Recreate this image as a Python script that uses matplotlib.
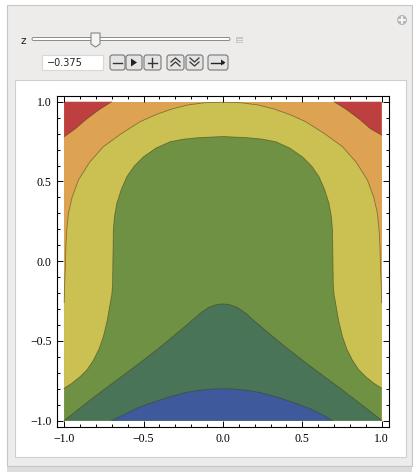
import matplotlib
matplotlib.use("Agg")
import matplotlib.pyplot as plt
from matplotlib.patches import Rectangle, FancyBboxPatch, Circle, Polygon

# Contour boundaries (x values, y values)
red_left_x = [-0.70, -0.78, -0.86, -0.93, -1.0]
red_left_y = [1.0, 0.95, 0.89, 0.83, 0.78]
red_right_x = [0.70, 0.78, 0.86, 0.93, 1.0]
red_right_y = [1.0, 0.95, 0.89, 0.83, 0.79]

orange_x = [-1.0, -0.997, -0.993, -0.989, -0.984, -0.973, -0.95, -0.91, -0.84, -0.753,
            -0.64, -0.521, -0.42, -0.32, -0.22, -0.112, 0.0,
            0.112, 0.22, 0.32, 0.42, 0.521, 0.64, 0.753, 0.84, 0.91,
            0.95, 0.973, 0.984, 0.989, 0.993, 0.997, 1.0]
orange_y = [-0.26, -0.15, -0.05, 0.09, 0.19, 0.30, 0.40, 0.509, 0.62, 0.718,
            0.80, 0.875, 0.92, 0.955, 0.98, 0.994, 0.997,
            0.994, 0.98, 0.955, 0.92, 0.875, 0.80, 0.718, 0.62, 0.509,
            0.40, 0.30, 0.19, 0.09, -0.05, -0.15, -0.26]

yellow_x = [-1.0, -0.95, -0.899, -0.855, -0.815, -0.78, -0.753, -0.728, -0.71, -0.70,
            -0.695, -0.693, -0.69, -0.683, -0.668, -0.64, -0.605, -0.56, -0.50, -0.42,
            -0.333, -0.25, -0.15, -0.038, 0.0,
            0.038, 0.15, 0.25, 0.333, 0.42, 0.50, 0.56, 0.605, 0.64, 0.668,
            0.683, 0.69, 0.693, 0.695, 0.70, 0.71, 0.728, 0.753, 0.78, 0.815,
            0.855, 0.899, 0.95, 1.0]
yellow_y = [-0.797, -0.765, -0.724, -0.68, -0.62, -0.55, -0.473, -0.37, -0.264, -0.21,
            -0.15, 0.0, 0.196, 0.28, 0.363, 0.45, 0.53, 0.595, 0.655, 0.71,
            0.749, 0.765, 0.775, 0.78, 0.782,
            0.78, 0.775, 0.765, 0.749, 0.71, 0.655, 0.595, 0.53, 0.45, 0.363,
            0.28, 0.196, 0.0, -0.15, -0.21, -0.264, -0.37, -0.473, -0.55, -0.62,
            -0.68, -0.724, -0.765, -0.797]

dkgreen_x = [-1.0, -0.88, -0.753, -0.62, -0.50, -0.39, -0.29, -0.21, -0.144, -0.09,
             -0.04, 0.0, 0.04, 0.09, 0.144, 0.21, 0.29, 0.39, 0.50, 0.62,
             0.753, 0.88, 1.0]
dkgreen_y = [-1.0, -0.905, -0.808, -0.71, -0.62, -0.535, -0.452, -0.385, -0.327, -0.29,
             -0.272, -0.268, -0.272, -0.29, -0.327, -0.385, -0.452, -0.535, -0.62, -0.71,
             -0.808, -0.905, -0.998]

blue_x = [-0.70, -0.62, -0.542, -0.44, -0.333, -0.24, -0.15, -0.07, 0.0,
          0.07, 0.15, 0.24, 0.333, 0.44, 0.542, 0.62, 0.69]
blue_y = [-1.0, -0.96, -0.922, -0.885, -0.85, -0.825, -0.81, -0.802, -0.80,
          -0.802, -0.81, -0.825, -0.85, -0.885, -0.922, -0.96, -1.0]

slider_value = "\u22120.375"
ticks = [-1.0, -0.5, 0.0, 0.5, 1.0]
tick_labels = ["\u22121.0", "\u22120.5", "0.0", "0.5", "1.0"]

c_red = "#bd3f40"
c_orange = "#dea352"
c_yellow = "#cbc152"
c_green = "#6f9143"
c_dkgreen = "#4a7458"
c_blue = "#3f5a9c"
c_line = "#3d3d1c"

W, H = 417, 472
fig = plt.figure(figsize=(W / 100, H / 100), dpi=100)
fig.patch.set_facecolor("white")

# pixel-space overlay for the Manipulate panel
ui = fig.add_axes([0, 0, 1, 1])
ui.set_xlim(0, W)
ui.set_ylim(H, 0)
ui.axis("off")
ui.add_patch(Rectangle((7, 466), 405, 6, facecolor="#dcdcdc", edgecolor="none"))
ui.add_patch(Rectangle((7, 5), 405, 461, facecolor="#edecea", edgecolor="#c6c6c6", lw=0.8))
ui.add_patch(Rectangle((15, 80), 391, 377, facecolor="white", edgecolor="#cfcfcf", lw=0.8))

# plus icon top right
ui.add_patch(Circle((402, 20), 5, facecolor="#b8b8b8", edgecolor="none"))
ui.plot([399, 405], [20, 20], color="white", lw=1.2)
ui.plot([402, 402], [17, 23], color="white", lw=1.2)

# slider
ui.text(23, 41, "z", fontsize=7.5, ha="center", va="center", family="DejaVu Sans", color="#222222")
ui.add_patch(FancyBboxPatch((32, 37.5), 198, 3, boxstyle="round,pad=0,rounding_size=1.5",
                            facecolor="white", edgecolor="#8a8a8a", lw=0.7))
ui.add_patch(Polygon([[91, 33], [100, 33], [100, 44], [95.5, 47], [91, 44]],
                     closed=True, facecolor="#f4f4f4", edgecolor="#777777", lw=0.7))
ui.add_patch(Rectangle((236, 37), 7, 6, facecolor="#c8c8c8", edgecolor="none"))
ui.plot([237, 242], [39, 39], color="#f0f0f0", lw=0.6)
ui.plot([237, 242], [41, 41], color="#f0f0f0", lw=0.6)

# value box
ui.add_patch(Rectangle((42, 55), 61, 15, facecolor="white", edgecolor="#d8d8d8", lw=0.8))
ui.text(47, 62.5, slider_value, fontsize=7, ha="left", va="center", family="DejaVu Sans", color="#222222")

# buttons
buttons = [(110, 15), (126, 16), (144, 17), (167, 17), (186, 17), (208, 20)]
for bx, bw in buttons:
    ui.add_patch(FancyBboxPatch((bx, 55), bw, 15, boxstyle="round,pad=0,rounding_size=2.5",
                                facecolor="#e4e4e4", edgecolor="#777777", lw=0.8))
ui.plot([113, 122], [62.5, 62.5], color="#333333", lw=1.0)
ui.add_patch(Polygon([[131, 58.5], [131, 66.5], [137, 62.5]], closed=True, facecolor="#222222"))
ui.plot([148, 157], [62.5, 62.5], color="#333333", lw=1.0)
ui.plot([152.5, 152.5], [58, 67], color="#333333", lw=1.0)
for dy in (0, 4):
    ui.plot([171, 175.5, 180], [62 + dy, 58 + dy, 62 + dy], color="#333333", lw=0.9)
    ui.plot([190, 194.5, 199], [58 + dy, 62 + dy, 58 + dy], color="#333333", lw=0.9)
ui.plot([211, 223], [62.5, 62.5], color="#222222", lw=1.0)
ui.add_patch(Polygon([[221, 59.5], [221, 65.5], [225.5, 62.5]], closed=True, facecolor="#222222"))

# contour plot axes: frame from px 57..389 (x), 96..427 (y)
ax = fig.add_axes([57 / W, 1 - 427 / H, (389 - 57) / W, (427 - 96) / H])
ax.set_xlim(-1.045, 1.046)
ax.set_ylim(-1.04, 1.036)

ax.add_patch(Rectangle((-1, -1), 2, 2, facecolor=c_orange, edgecolor="none"))
ax.fill(red_left_x + [-1.0], red_left_y + [1.0], color=c_red, lw=0)
ax.fill(red_right_x + [1.0], red_right_y + [1.0], color=c_red, lw=0)
ax.fill(orange_x + [1.0, -1.0], orange_y + [-1.0, -1.0], color=c_yellow, lw=0)
ax.fill(yellow_x + [1.0, -1.0], yellow_y + [-1.0, -1.0], color=c_green, lw=0)
ax.fill(dkgreen_x + [1.0], dkgreen_y + [-1.0], color=c_dkgreen, lw=0)
ax.fill(blue_x, blue_y, color=c_blue, lw=0)

for xs, ys in [(red_left_x, red_left_y), (red_right_x, red_right_y), (orange_x, orange_y),
               (yellow_x, yellow_y), (dkgreen_x, dkgreen_y), (blue_x, blue_y)]:
    ax.plot(xs, ys, color=c_line, lw=0.6, alpha=0.55)

ax.set_xticks(ticks)
ax.set_xticklabels(tick_labels)
ax.set_yticks(ticks)
ax.set_yticklabels(tick_labels)
minor = [i / 10 for i in range(-10, 11)]
ax.set_xticks(minor, minor=True)
ax.set_yticks(minor, minor=True)
ax.tick_params(which="both", direction="in", top=True, right=True, width=0.7, color="black")
ax.tick_params(which="major", length=4, labelsize=8.5, pad=4)
ax.tick_params(which="minor", length=2.3)
for lab in ax.get_xticklabels() + ax.get_yticklabels():
    lab.set_family("Liberation Serif")
for s in ax.spines.values():
    s.set_linewidth(0.8)

fig.savefig("out.png", dpi=100)
